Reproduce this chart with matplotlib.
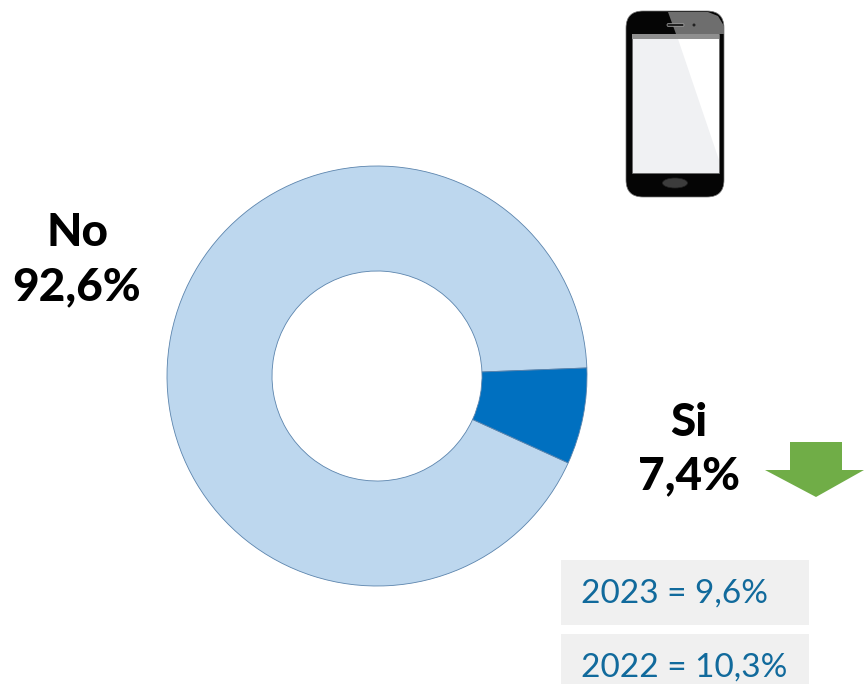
import matplotlib
matplotlib.use('Agg')
import matplotlib.pyplot as plt
from matplotlib.patches import FancyBboxPatch, Polygon, Rectangle, Ellipse, Circle

# Dati
labels = ['No', 'Si']
values = [92.6, 7.4]
colors = ['#bdd7ee', '#0070c0']
label_texts = ['No\n92,6%', 'Si\n7,4%']
history = ['2023 = 9,6%', '2022 = 10,3%']

H = 684

def py(y):
    # coordinate pixel dall'alto
    return H - y

fig = plt.figure(figsize=(8.64, 6.84), dpi=100)
ax = fig.add_axes([0, 0, 1, 1])

# Ciambella
ax.pie(values, colors=colors, startangle=2.2, center=(377, py(376)), radius=210,
       wedgeprops={'width': 105, 'edgecolor': '#5b84ad', 'linewidth': 0.6}, frame=True)
ax.set_xlim(0, 864)
ax.set_ylim(0, H)
ax.set_aspect('equal')
ax.axis('off')

# Etichette
ax.text(77, py(260), label_texts[0], ha='center', va='center', fontsize=33, family='Lato',
        weight='black', color='black', linespacing=1.36)
ax.text(689, py(450), label_texts[1], ha='center', va='center', fontsize=33, family='Lato',
        weight='black', color='black', linespacing=1.33)

# Freccia verde
ax.add_patch(Polygon([(790, py(442)), (842, py(442)), (842, py(470)), (864, py(470)),
                      (816, py(497)), (765, py(470)), (790, py(470))],
                     closed=True, facecolor='#70ad47', edgecolor='none'))

# Riquadri con gli anni precedenti
ax.add_patch(Rectangle((561, py(625)), 248, 65, facecolor='#f0f0f0', edgecolor='none'))
ax.add_patch(Rectangle((561, py(684)), 248, 50, facecolor='#f0f0f0', edgecolor='none'))
ax.text(581, py(594), history[0], ha='left', va='center', fontsize=24, family='Lato', color='#116a9c')
ax.text(581, py(668), history[1], ha='left', va='center', fontsize=24, family='Lato', color='#116a9c')

# Telefono
ax.add_patch(FancyBboxPatch((626, py(197)), 98, 186, boxstyle='round,pad=0,rounding_size=17',
                            facecolor='#050505', edgecolor='#777777', linewidth=0.5))
ax.add_patch(Polygon([(668, py(12)), (708, py(12)), (718, py(16)), (724, py(26)), (724, py(34)), (676, py(34))],
                     closed=True, facecolor='#6e6e6e', edgecolor='none'))
ax.add_patch(Rectangle((632, py(173)), 87, 139, facecolor='#f0f1f3', edgecolor='#666666', linewidth=0.5))
ax.add_patch(Rectangle((632, py(39)), 87, 5, facecolor='#8f8f8f', edgecolor='none'))
ax.add_patch(Polygon([(678, py(39)), (719, py(39)), (719, py(160))],
                     closed=True, facecolor='white', edgecolor='none'))
ax.add_patch(FancyBboxPatch((667, py(26.5)), 17, 3, boxstyle='round,pad=0,rounding_size=1.5',
                            facecolor='#222222', edgecolor='#aaaaaa', linewidth=0.5))
ax.add_patch(Circle((694, py(25)), 1.5, facecolor='#222222', edgecolor='none'))
ax.add_patch(Ellipse((675, py(183)), 25, 10, facecolor='#3c3c3c', edgecolor='#222222', linewidth=0.5))

fig.savefig('out.png', dpi=100)
